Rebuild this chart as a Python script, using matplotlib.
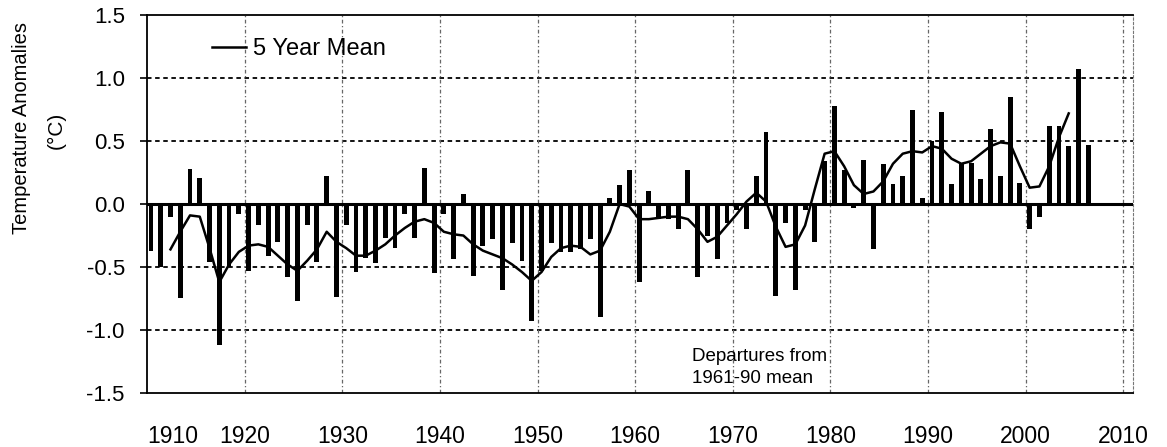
import matplotlib
matplotlib.use('Agg')
import matplotlib.pyplot as plt
import numpy as np

plt.rcParams['font.family'] = ['Liberation Sans', 'DejaVu Sans']
plt.rcParams['axes.unicode_minus'] = False

# annual anomalies 1910-2006 (deg C, departures from 1961-90 mean)
years = np.arange(1910, 2007)
anomaly = [-0.37, -0.50, -0.10, -0.75, 0.28, 0.21, -0.46, -1.12, -0.50, -0.08,
           -0.53, -0.17, -0.41, -0.30, -0.58, -0.77, -0.17, -0.46, 0.22, -0.74,
           -0.17, -0.54, -0.43, -0.47, -0.27, -0.35, -0.08, -0.27, 0.29, -0.55,
           -0.08, -0.44, 0.08, -0.57, -0.33, -0.28, -0.68, -0.31, -0.45, -0.93,
           -0.53, -0.31, -0.38, -0.38, -0.36, -0.28, -0.90, 0.05, 0.15, 0.27,
           -0.62, 0.10, -0.12, -0.12, -0.20, 0.27, -0.58, -0.25, -0.44, -0.15,
           -0.05, -0.20, 0.22, 0.57, -0.73, -0.15, -0.68, -0.05, -0.30, 0.34,
           0.78, 0.27, -0.03, 0.35, -0.36, 0.32, 0.16, 0.22, 0.75, 0.05,
           0.50, 0.73, 0.16, 0.33, 0.33, 0.20, 0.60, 0.22, 0.85, 0.17,
           -0.20, -0.10, 0.62, 0.62, 0.46, 1.07, 0.47]

# 5 year mean 1912-2004
mean_years = np.arange(1912, 2005)
mean5 = [-0.36, -0.22, -0.09, -0.10, -0.35, -0.62, -0.48, -0.38,
         -0.33, -0.32, -0.34, -0.41, -0.48, -0.53, -0.45, -0.36, -0.22, -0.30,
         -0.35, -0.41, -0.41, -0.37, -0.32, -0.25, -0.19, -0.14, -0.12, -0.15,
         -0.22, -0.24, -0.25, -0.32, -0.37, -0.40, -0.43, -0.48, -0.54, -0.61,
         -0.54, -0.42, -0.35, -0.33, -0.34, -0.40, -0.37, -0.22, 0.00, -0.02,
         -0.12, -0.12, -0.11, -0.10, -0.10, -0.12, -0.20, -0.30, -0.26, -0.17,
         -0.08, 0.02, 0.09, 0.02, -0.18, -0.34, -0.32, -0.17, 0.12, 0.40,
         0.42, 0.30, 0.15, 0.08, 0.10, 0.18, 0.32, 0.40, 0.42, 0.41,
         0.46, 0.44, 0.36, 0.32, 0.34, 0.40, 0.46, 0.49, 0.48, 0.30,
         0.13, 0.14, 0.30, 0.53, 0.72]

xticks = np.arange(1910, 2011, 10)
yticks = [1.5, 1.0, 0.5, 0.0, -0.5, -1.0, -1.5]

fig = plt.figure(figsize=(11.67, 4.47), dpi=100)
ax = fig.add_axes([0.126, 0.121, 0.845, 0.845])

off = 0.4  # bars sit a little right of the year mark
ax.bar(years + off, anomaly, width=0.5, color='black', zorder=3)
ax.plot(mean_years + off, mean5, color='black', lw=1.8, zorder=4, label='5 Year Mean')
ax.axhline(0, color='black', lw=2.2, zorder=5)

for y in [1.0, 0.5, -0.5, -1.0]:
    ax.axhline(y, color='black', lw=1.3, ls=(0, (2.5, 2)), zorder=1)
for x in xticks[1:]:
    ax.axvline(x, color='#666666', lw=0.9, ls=(0, (3, 2, 1, 2)), zorder=1)

ax.set_xlim(1910, 2011)
ax.set_ylim(-1.5, 1.5)
ax.set_xticks(xticks)
ax.set_xticklabels([str(v) for v in xticks], fontsize=16.5)
ax.get_xticklabels()[0].set_ha('left')
ax.set_yticks(yticks)
ax.set_yticklabels(['%.1f' % v for v in yticks], fontsize=16)
ax.tick_params(axis='x', length=0, pad=23)
ax.tick_params(axis='y', length=5, width=1.2, pad=11)

for s in ['left', 'bottom', 'top']:
    ax.spines[s].set_linewidth(1.3)
ax.spines['right'].set_color('#777777')
ax.spines['right'].set_linestyle((0, (2, 2)))

ax.legend(loc='upper left', bbox_to_anchor=(0.066, 0.94), frameon=False,
          fontsize=17, handlelength=1.45, handletextpad=0.3,
          borderpad=0, borderaxespad=0)

ax.text(1965.8, -1.30, 'Departures from\n1961-90 mean', fontsize=13.5,
        ha='left', va='center', linespacing=1.35)

fig.text(22 / 1167, 1 - 128 / 447, 'Temperature Anomalies', rotation=90,
         fontsize=14.5, ha='center', va='center')
fig.text(56 / 1167, 1 - 130 / 447, '(°C)', rotation=90,
         fontsize=15, ha='center', va='center')

fig.savefig('out.png', dpi=100)
